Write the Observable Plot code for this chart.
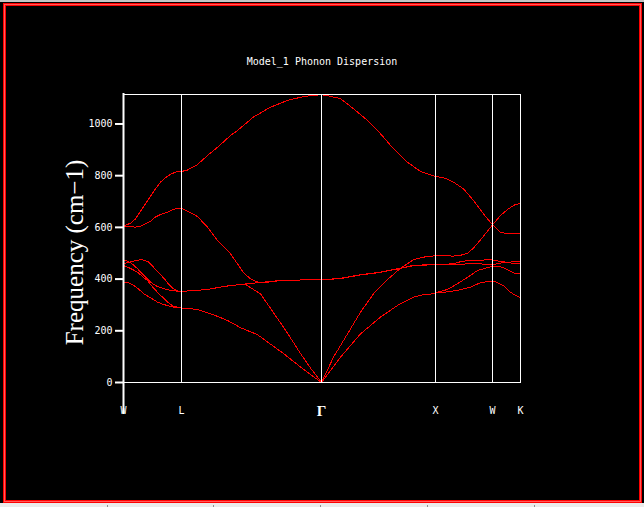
<!DOCTYPE html>
<html><head><meta charset="utf-8">
<script src="https://cdn.jsdelivr.net/npm/d3@7"></script>
<script src="https://cdn.jsdelivr.net/npm/@observablehq/plot@0.6"></script>
<style>
html,body{margin:0;padding:0;background:#000;width:644px;height:507px;overflow:hidden;}
#wrap{position:relative;width:644px;height:507px;background:#000;}
#topstrip{position:absolute;left:0;top:0;width:644px;height:2px;background:#c4c4c4;}
#botstrip{position:absolute;left:0;top:503px;width:644px;height:4px;background:#ebebeb;}
.bt{position:absolute;top:505px;width:1px;height:2px;background:#909090;}
#border{position:absolute;left:3px;top:3px;width:637px;height:498px;border:1px solid #ff0000;box-shadow:inset 0 0 0 1px #ff5a5a, inset 0 0 0 2px #ff0000;}
#chart{position:absolute;left:0;top:0;}
</style>
</head><body>
<div id="wrap">
  <div id="topstrip"></div>
  <div id="botstrip"></div>
  <div class="bt" style="left:107px"></div>
  <div class="bt" style="left:213px"></div>
  <div class="bt" style="left:320px"></div>
  <div class="bt" style="left:427px"></div>
  <div class="bt" style="left:534px"></div>
  <div id="border"></div>
  <div id="chart"></div>
</div>
<script>
const title = "Model_1 Phonon Dispersion";
const yLabel = "Frequency (cm\u22121)";
const kPoints = [0, 58, 198, 312, 369, 397];
const kLabels = ["W", "L", "\u0393", "X", "W", "K"];
const yTicks = [0, 200, 400, 600, 800, 1000];
const yMax = 1114;

// bands: [path position, frequency (cm-1)]
const band6 = [[0,605],[3,610],[7,616],[12,633],[17,663],[22,691],[27,720],[32,749],[37,775],[42,792],[47,805],[52,814],[58,816],[64,822],[74,843],[84,878],[94,910],[107,955],[114,975],[130,1027],[147,1065],[164,1091],[180,1106],[190,1111],[198,1113],[202,1111],[217,1098],[230,1059],[244,1014],[257,962],[270,904],[284,852],[297,816],[307,803],[312,797],[322,790],[330,775],[340,749],[350,704],[360,652],[369,610],[377,581],[384,575],[397,575]];
const band5 = [[0,605],[7,603],[12,601],[17,605],[22,614],[27,624],[32,640],[37,650],[44,659],[50,670],[55,673],[58,673],[64,663],[74,642],[84,601],[94,549],[100,525],[107,498],[112,470],[120,425],[127,401],[135,387],[147,389],[160,396],[198,397],[217,403],[237,417],[257,427],[274,440],[290,453],[307,456],[312,456],[322,457],[330,460],[338,468],[346,472],[355,473],[362,474],[369,474],[377,468],[384,465],[390,467],[397,469]];
const band4 = [[0,460],[7,466],[13,473],[19,475],[25,466],[30,446],[35,425],[40,405],[45,381],[50,362],[54,354],[58,353],[70,355],[84,360],[97,369],[107,375],[117,379],[134,386],[160,396],[198,397],[217,402],[237,416],[257,426],[274,439],[290,452],[307,455],[312,455],[322,455],[330,456],[340,458],[350,460],[360,458],[369,456],[377,462],[384,464],[390,461],[397,459]];
const band3 = [[0,475],[5,468],[10,455],[14,440],[20,415],[27,388],[32,375],[37,367],[45,358],[52,354],[58,353],[70,355],[84,360],[97,369],[107,375],[117,379],[122,380],[129,362],[137,343],[150,270],[164,191],[177,112],[187,56],[198,0],[210,98],[224,188],[237,272],[250,343],[264,398],[277,442],[290,475],[300,485],[307,488],[312,491],[322,490],[330,489],[337,492],[344,500],[350,520],[357,552],[364,585],[369,610],[377,646],[385,672],[392,689],[397,692]];
const band2 = [[0,452],[5,445],[10,435],[14,427],[19,410],[24,394],[29,370],[34,349],[39,330],[44,311],[49,297],[54,291],[58,288],[69,285],[77,279],[90,262],[104,240],[117,212],[134,185],[150,140],[160,112],[177,60],[187,31],[198,0],[217,98],[237,188],[257,253],[274,298],[290,330],[300,340],[307,342],[312,347],[324,360],[334,382],[344,407],[354,433],[362,442],[369,450],[377,448],[384,437],[390,424],[397,420]];
const band1 = [[0,388],[5,386],[10,376],[15,362],[20,344],[27,328],[34,311],[40,302],[47,294],[53,290],[58,288],[69,285],[77,279],[90,262],[104,240],[117,212],[134,185],[150,140],[160,112],[177,60],[187,31],[198,0],[217,98],[237,188],[257,253],[274,298],[290,330],[300,340],[307,342],[312,347],[322,350],[334,356],[347,369],[357,386],[364,390],[372,390],[380,375],[387,349],[392,337],[397,328]];

const bands = [band1, band2, band3, band4, band5, band6];
const lineData = bands.flatMap((b, i) => b.map(([k, f]) => ({band: i + 1, k, f})));
const tickData = kPoints.map((k, i) => ({k, label: kLabels[i]}));
const mono = "DejaVu Sans Mono";

const chart = Plot.plot({
  width: 644, height: 507,
  marginLeft: 123, marginRight: 124, marginTop: 94, marginBottom: 125,
  style: {background: "transparent", color: "white", overflow: "visible"},
  x: {domain: [kPoints[0], kPoints[kPoints.length - 1]], axis: null},
  y: {domain: [0, yMax], axis: null},
  marks: [
    Plot.line(lineData, {x: "k", y: "f", z: "band", stroke: "#ff0000", strokeWidth: 1, shapeRendering: "crispEdges"}),
    Plot.frame({stroke: "white", strokeWidth: 1}),
    Plot.ruleX(kPoints.slice(1, -1), {stroke: "white", strokeWidth: 1}),
    Plot.ruleX([kPoints[0]], {stroke: "white", strokeWidth: 2, insetBottom: -32, insetTop: -1}),
    Plot.axisY({ticks: yTicks, tickFormat: "d", tickSize: 8, tickPadding: 3, stroke: "white", strokeWidth: 2, fill: "white", fontSize: 10, fontFamily: mono, label: null}),
    Plot.text([title], {frameAnchor: "top", lineAnchor: "middle", textAnchor: "middle", dy: -33, fill: "white", fontSize: 10, fontFamily: mono}),
    Plot.text([yLabel], {frameAnchor: "left", textAnchor: "middle", lineAnchor: "middle", dx: -49, dy: 14, rotate: -90, fill: "white", fontSize: 25, fontFamily: "Liberation Serif"}),
    Plot.text(tickData.filter(d => d.label !== "\u0393"), {x: "k", frameAnchor: "bottom", lineAnchor: "middle", dy: 28, text: "label", fill: "white", fontSize: 10, fontFamily: mono}),
    Plot.text(tickData.filter(d => d.label === "\u0393"), {x: "k", frameAnchor: "bottom", lineAnchor: "middle", dy: 29, text: "label", fill: "white", fontSize: 15, fontWeight: "bold", fontFamily: "Liberation Serif"})
  ]
});
document.getElementById("chart").appendChild(chart);
</script>
</body></html>
